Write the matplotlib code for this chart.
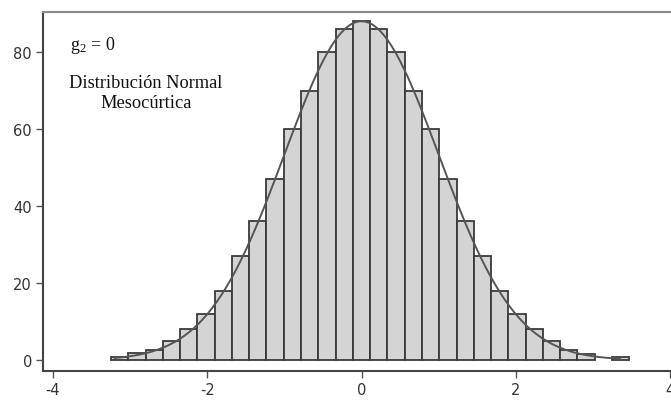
import numpy as np
import matplotlib
matplotlib.use("Agg")
import matplotlib.pyplot as plt

plt.rcParams['axes.unicode_minus'] = False
plt.rcParams['mathtext.fontset'] = 'custom'
plt.rcParams['mathtext.rm'] = 'Liberation Serif'
plt.rcParams['mathtext.it'] = 'Liberation Serif:italic'

# --- data ---
bin_width = 0.224
bin_index = list(range(-14, 16))
counts = [0.7, 1.7, 2.6, 5.0, 8.0, 12.0, 18.0, 27.0, 36.0, 47.0, 60.0, 70.0, 80.0, 86.0,
          88.0,
          86.0, 80.0, 70.0, 60.0, 47.0, 36.0, 27.0, 18.0, 12.0, 8.0, 5.0, 2.6, 1.6, 0.0, 0.7]
# fitted normal curve parameters
n_obs = 985
mu = 0.0
sigma = 1.0
curve_range = (-3.2, 3.35)

x_ticks = [-4, -2, 0, 2, 4]
y_ticks = [0, 20, 40, 60, 80]

fig = plt.figure(figsize=(6.71, 4.02), dpi=100)
ax = fig.add_axes([43/671, 29.7/402, 1 - 43/671, 359.6/402])

centers = np.array(bin_index) * bin_width
heights = np.array(counts)
mask = heights > 0
ax.bar(centers[mask], heights[mask], width=bin_width, color='#d4d4d4',
       edgecolor='#3a3a3a', linewidth=1.3, zorder=2)

xc = np.linspace(curve_range[0], curve_range[1], 400)
yc = n_obs * bin_width * np.exp(-0.5 * ((xc - mu) / sigma) ** 2) / (sigma * np.sqrt(2 * np.pi))
ax.plot(xc, yc, color='#555555', linewidth=1.4, zorder=3)

ax.set_xlim(-4.13, 4.013)
ax.set_ylim(-2.94, 90.5)
ax.set_xticks(x_ticks)
ax.set_yticks(y_ticks)
ax.set_xticklabels([str(t) for t in x_ticks])
ax.set_yticklabels([str(t) for t in y_ticks])

for side in ['left', 'bottom']:
    ax.spines[side].set_color('#444444')
    ax.spines[side].set_linewidth(1.5)
ax.spines['top'].set_color('#8a8a8a')
ax.spines['top'].set_linewidth(1.5)
ax.spines['right'].set_visible(False)

ax.tick_params(axis='both', direction='out', length=5, width=1.0, color='#555555',
               labelcolor='#333333', labelsize=10.5, pad=3)

serif = ['Liberation Serif', 'DejaVu Serif']
ax.text(70/671, 1 - 45/402, r'g$_2$ = 0', transform=fig.transFigure, family=serif,
        fontsize=13, va='center', ha='left', color='#111111')
ax.text(146/671, 1 - 83/402, 'Distribución Normal', transform=fig.transFigure, family=serif,
        fontsize=13.2, va='center', ha='center', color='#111111')
ax.text(146/671, 1 - 104/402, 'Mesocúrtica', transform=fig.transFigure, family=serif,
        fontsize=13.2, va='center', ha='center', color='#111111')

fig.savefig('out.png', dpi=100)
